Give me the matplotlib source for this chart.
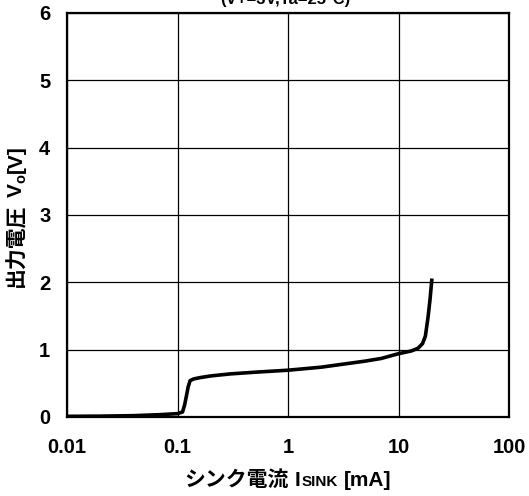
import matplotlib
matplotlib.use("Agg")
import matplotlib.pyplot as plt
from matplotlib.ticker import NullLocator

# sink current [mA] vs output voltage [V]
isink = [0.01, 0.02, 0.04, 0.07, 0.1, 0.111, 0.116, 0.12, 0.125, 0.13, 0.14,
         0.16, 0.2, 0.3, 0.5, 1, 2, 3, 5, 7, 10, 13, 15, 16.5, 17.5, 18.5,
         19.3, 20]
vout = [0.01, 0.013, 0.02, 0.035, 0.05, 0.074, 0.18, 0.3, 0.45, 0.54, 0.565,
        0.585, 0.61, 0.64, 0.665, 0.695, 0.74, 0.78, 0.83, 0.87, 0.94, 0.98,
        1.02, 1.09, 1.2, 1.48, 1.75, 2.03]

xticks = [0.01, 0.1, 1, 10, 100]
xtick_labels = ["0.01", "0.1", "1", "10", "100"]
yticks = [0, 1, 2, 3, 4, 5, 6]

W, H = 529, 496
LATIN = "Liberation Sans"
CJK = "Noto Sans CJK JP"
FAM = [LATIN, CJK]

fig = plt.figure(figsize=(W / 100, H / 100), dpi=100)
ax = fig.add_axes([67 / W, 1 - 417 / H, 442 / W, 404 / H])

ax.plot(isink, vout, color="black", lw=2.6, solid_joinstyle="round")

ax.set_xscale("log")
ax.set_xlim(0.01, 100)
ax.set_ylim(0, 6)
ax.set_xticks(xticks)
ax.set_xticklabels(xtick_labels)
ax.set_yticks(yticks)
ax.xaxis.set_minor_locator(NullLocator())
ax.grid(True, color="black", lw=0.9)
ax.tick_params(axis="both", length=0, labelsize=14.5)
ax.tick_params(axis="x", pad=15)
ax.tick_params(axis="y", pad=12)
for lab in ax.get_xticklabels() + ax.get_yticklabels():
    lab.set_family(LATIN)
    lab.set_fontweight("bold")
for sp in ax.spines.values():
    sp.set_linewidth(1.6)


# Put several text pieces one after another on a common baseline
def place_pieces(pieces, cx, cy, rotation=0):
    texts = []
    for s, size, fam, dy, gap in pieces:
        t = fig.text(0, 0, s, fontsize=size, family=fam, fontweight="bold",
                     ha="left", va="baseline", rotation_mode="anchor")
        texts.append(t)
    r = fig.canvas.get_renderer()
    widths = [t.get_window_extent(r).width for t in texts]
    total = sum(widths) + sum(p[4] for p in pieces)
    pos = -total / 2
    for t, w, (s, size, fam, dy, gap) in zip(texts, widths, pieces):
        pos += gap
        if rotation == 90:
            x, y = cx + dy, cy + pos
        else:
            x, y = cx + pos, cy - dy
        t.set_position((x / W, y / H))
        t.set_rotation(rotation)
        pos += w


place_pieces([("シンク電流", 15, CJK, 0, 0),
              ("I", 15, LATIN, 0, 6),
              ("SINK", 11, LATIN, 0, 1),
              ("[mA]", 15, LATIN, 0, 6)],
             288, H - 486)

place_pieces([("出力電圧", 15, CJK, 0, 0),
              ("V", 15, LATIN, 0, 6),
              ("o", 10.5, LATIN, 3, 0),
              ("[V]", 15, LATIN, 0, 1)],
             22, H - 216, rotation=90)

fig.text(285 / W, 1 - 4 / H, "(V+=3V,Ta=25°C)", fontsize=12, family=FAM,
         fontweight="bold", ha="center", va="baseline")

fig.savefig("out.png", dpi=100)
